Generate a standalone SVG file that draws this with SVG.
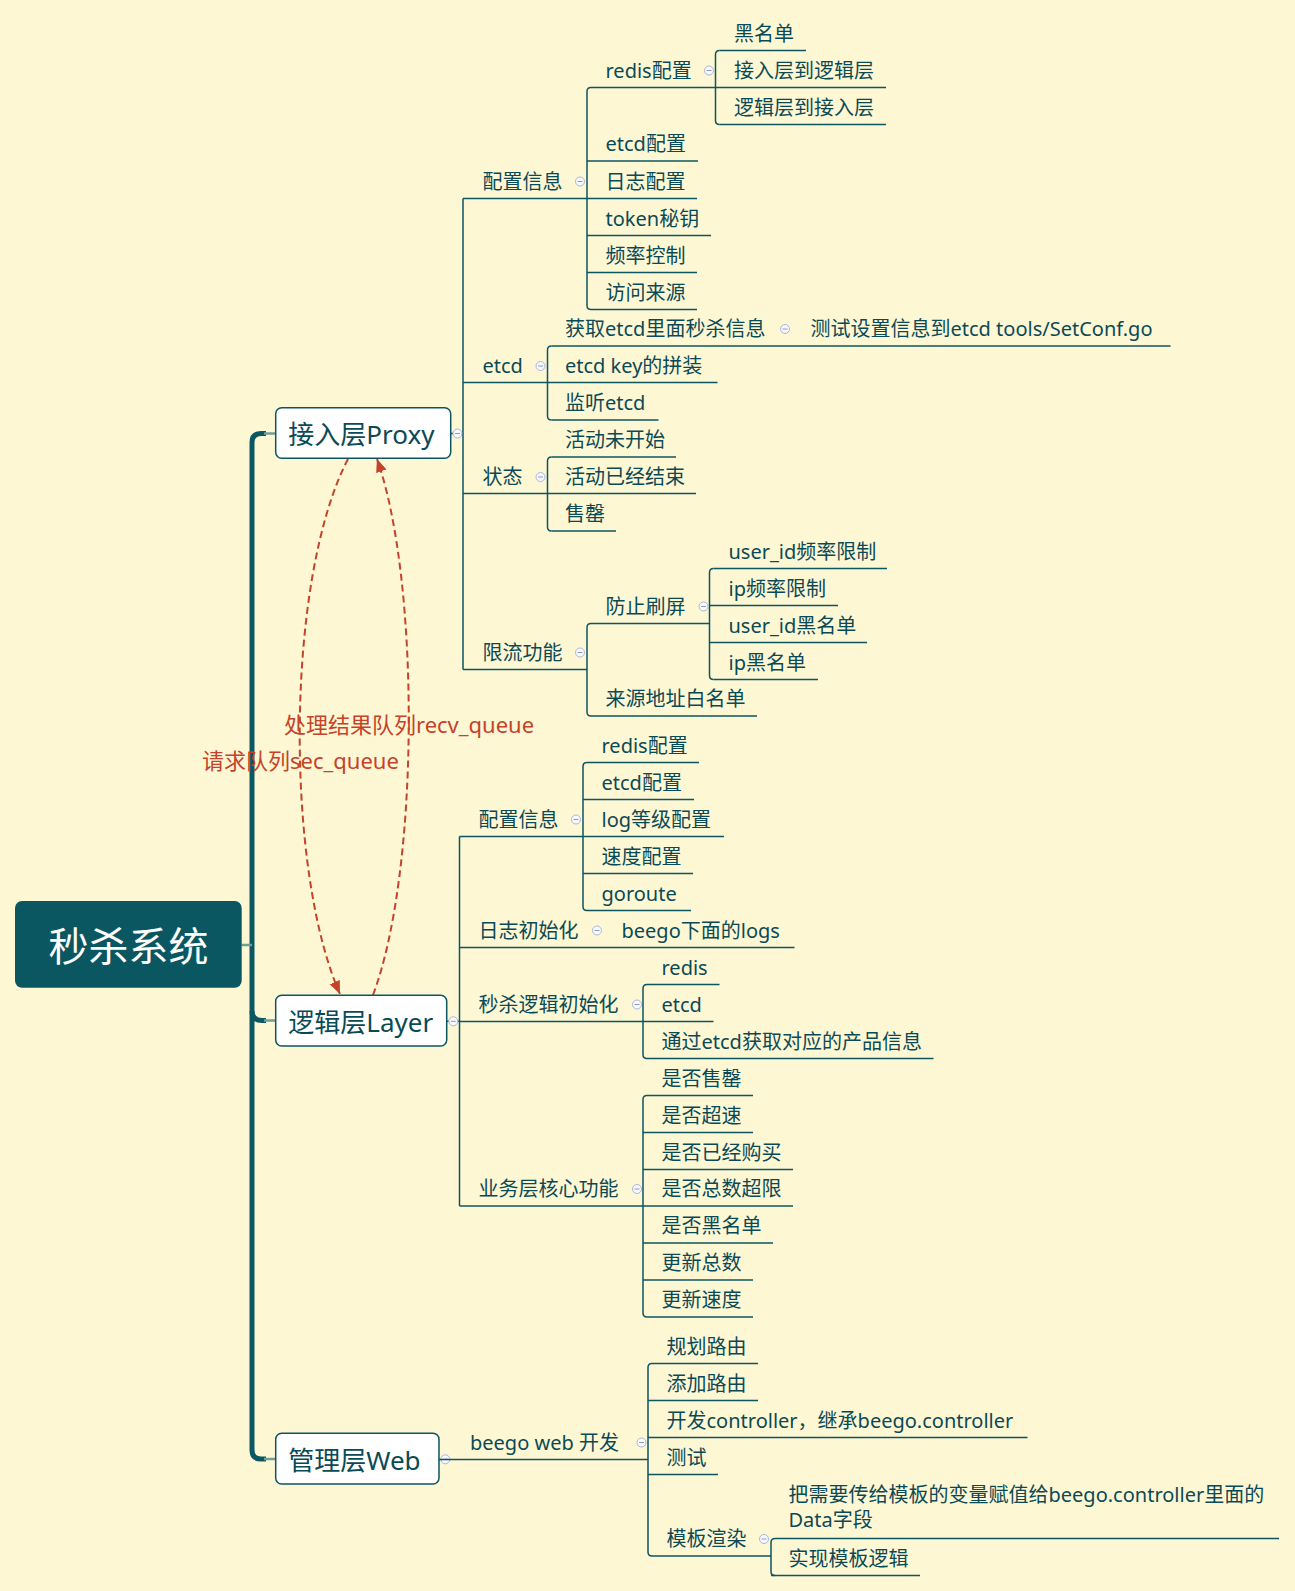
<svg xmlns="http://www.w3.org/2000/svg" xmlns:xlink="http://www.w3.org/1999/xlink" width="1295" height="1591" viewBox="0 0 1295 1591">
<style>
text{font-family:"Noto Sans","Noto Sans CJK SC",sans-serif;font-size:20px;fill:#0a4a56}
.bt{font-size:26px}
.rt{font-size:40px;fill:#ffffff}
.lbl{font-size:22px;fill:#c4432a}
path.u,.con path.l{stroke:#0b5661;stroke-width:1.5;fill:none}
.box{fill:#ffffff;stroke:#0b5661;stroke-width:1.5}
.con path.trunk{stroke:#0b5862;stroke-width:5;fill:none}
.con path.stub{stroke:#6f9f97;stroke-width:2.5;fill:none}
.con path.dash{stroke:#c4432a;stroke-width:2;fill:none;stroke-dasharray:7 4}
.cc{fill:#f8f9ff;stroke:#aab6d8;stroke-width:1}
.cm{stroke:#8e9bc6;stroke-width:1;fill:none}
</style>
<defs>
<g id="col"><circle cx="0" cy="0" r="4.5" class="cc"/><path d="M-2.5 0H2.5" class="cm"/></g>
<marker id="ah" markerUnits="userSpaceOnUse" markerWidth="15" markerHeight="12" refX="13" refY="5.5" orient="auto"><path d="M0 0L13 5.5L0 11z" fill="#c4432a"/></marker>
</defs>
<rect x="0" y="0" width="1295" height="1591" fill="#fef7d4"/>

<g id="connectors" class="con">
<path class="trunk" d="M266 433.5H261Q252 433.5 252 442.5V1450Q252 1459 261 1459H266"/>
<path class="trunk" d="M252 1011Q252 1020.5 262 1020.5H266"/>
<path class="stub" d="M264 433.5H276"/>
<path class="stub" d="M264 1020.5H276"/>
<path class="stub" d="M264 1459H276"/>
<path class="stub" d="M241.5 945H252"/>
<path class="l" d="M450.7 433.5H463V198.5M463 433.5V669.5"/>
<path class="l" d="M591 87.5Q587 87.5 587 91.5V305.5Q587 309.5 591 309.5"/>
<path class="l" d="M719.5 50.5Q715.5 50.5 715.5 54.5V120.5Q715.5 124.5 719.5 124.5"/>
<path class="l" d="M551.5 346Q547.5 346 547.5 350V416Q547.5 420 551.5 420"/>
<path class="l" d="M551.5 457Q547.5 457 547.5 461V527Q547.5 531 551.5 531"/>
<path class="l" d="M591 623.5Q587 623.5 587 627.5V712Q587 716 591 716"/>
<path class="l" d="M713.5 568.5Q709.5 568.5 709.5 572.5V675.5Q709.5 679.5 713.5 679.5"/>
<path class="l" d="M446.7 1021.3H459.5M459.5 836.5V1206"/>
<path class="l" d="M587 762.5Q583 762.5 583 766.5V906.5Q583 910.5 587 910.5"/>
<path class="l" d="M647 984.5Q643 984.5 643 988.5V1054.5Q643 1058.5 647 1058.5"/>
<path class="l" d="M647 1095.5Q643 1095.5 643 1099.5V1313Q643 1317 647 1317"/>
<path class="l" d="M652 1363.5Q648 1363.5 648 1367.5V1552Q648 1556 652 1556"/>
<path class="l" d="M775 1538.5Q771 1538.5 771 1542.5V1571.5Q771 1575.5 775 1575.5"/>
<path class="dash" marker-end="url(#ah)" d="M348 459C285 580 285 870 340 994"/>
<path class="dash" marker-end="url(#ah)" d="M373 995C420 870 420 580 377 459"/>
<text class="lbl" x="284" y="733">处理结果队列recv_queue</text>
<text class="lbl" x="202" y="769">请求队列sec_queue</text>
<use href="#col" x="457.5" y="433.5"/>
<use href="#col" x="453.3" y="1021.3"/>
<use href="#col" x="445.3" y="1459.3"/>
</g>

<g id="root"><rect x="15" y="901" width="226.7" height="86.7" rx="7" fill="#0a5762"/><text class="rt" x="128.5" y="961" text-anchor="middle">秒杀系统</text></g>
<g id="proxy"><rect class="box" x="275.7" y="407.7" width="175" height="50.6" rx="6"/><text class="bt" x="288.3" y="443.5">接入层Proxy</text></g>
<g id="layer"><rect class="box" x="275.7" y="995.3" width="171" height="50.7" rx="6"/><text class="bt" x="288.3" y="1031.5">逻辑层Layer</text></g>
<g id="web"><rect class="box" x="275.7" y="1433.3" width="163.3" height="50.7" rx="6"/><text class="bt" x="288.3" y="1469.5">管理层Web</text></g>

<g id="p-cfg"><text x="482.5" y="188.5">配置信息</text><path class="u" d="M463 198.5H587"/><use href="#col" x="580" y="181.5"/></g>
<g id="p-etcd"><text x="482.5" y="372.5">etcd</text><path class="u" d="M463 382.5H547.5"/><use href="#col" x="540.5" y="366"/></g>
<g id="p-state"><text x="482.5" y="483.5">状态</text><path class="u" d="M463 493.5H547.5"/><use href="#col" x="540.5" y="477"/></g>
<g id="p-limit"><text x="482.5" y="659.5">限流功能</text><path class="u" d="M463 669.5H587"/><use href="#col" x="580" y="652.5"/></g>

<g id="p-cfg-redis"><text x="605.5" y="77.5">redis配置</text><path class="u" d="M591 87.5H715.5"/><use href="#col" x="709" y="70.5"/></g>
<g id="p-cfg-etcd"><text x="605.5" y="151">etcd配置</text><path class="u" d="M587 161H698"/></g>
<g id="p-cfg-log"><text x="605.5" y="188.5">日志配置</text><path class="u" d="M587 198.5H697"/></g>
<g id="p-cfg-token"><text x="605.5" y="225.5">token秘钥</text><path class="u" d="M587 235.5H711"/></g>
<g id="p-cfg-freq"><text x="605.5" y="262.5">频率控制</text><path class="u" d="M587 272.5H697"/></g>
<g id="p-cfg-src"><text x="605.5" y="299.5">访问来源</text><path class="u" d="M591 309.5H697"/></g>

<g id="p-redis-black"><text x="734" y="40.5">黑名单</text><path class="u" d="M719.5 50.5H806"/></g>
<g id="p-redis-a2l"><text x="734" y="77.5">接入层到逻辑层</text><path class="u" d="M715.5 87.5H886"/></g>
<g id="p-redis-l2a"><text x="734" y="114.5">逻辑层到接入层</text><path class="u" d="M719.5 124.5H886"/></g>

<g id="p-etcd-get"><text x="565" y="336">获取etcd里面秒杀信息</text><path class="u" d="M551.5 346H797"/><use href="#col" x="785" y="329"/></g>
<g id="p-etcd-test"><text x="810.5" y="336">测试设置信息到etcd tools/SetConf.go</text><path class="u" d="M797 346H1170.5"/></g>
<g id="p-etcd-key"><text x="565" y="372.5">etcd key的拼装</text><path class="u" d="M547.5 382.5H717.5"/></g>
<g id="p-etcd-watch"><text x="565" y="410">监听etcd</text><path class="u" d="M551.5 420H658.5"/></g>

<g id="p-state-1"><text x="565" y="447">活动未开始</text><path class="u" d="M551.5 457H676"/></g>
<g id="p-state-2"><text x="565" y="483.5">活动已经结束</text><path class="u" d="M547.5 493.5H696"/></g>
<g id="p-state-3"><text x="565" y="521">售罄</text><path class="u" d="M551.5 531H616"/></g>

<g id="p-limit-brush"><text x="605.5" y="613.5">防止刷屏</text><path class="u" d="M591 623.5H709.5"/><use href="#col" x="703.5" y="606.5"/></g>
<g id="p-limit-white"><text x="605.5" y="706">来源地址白名单</text><path class="u" d="M591 716H757"/></g>
<g id="p-brush-1"><text x="728.5" y="558.5">user_id频率限制</text><path class="u" d="M713.5 568.5H887"/></g>
<g id="p-brush-2"><text x="728.5" y="595.5">ip频率限制</text><path class="u" d="M709.5 605.5H838"/></g>
<g id="p-brush-3"><text x="728.5" y="632.5">user_id黑名单</text><path class="u" d="M709.5 642.5H867"/></g>
<g id="p-brush-4"><text x="728.5" y="669.5">ip黑名单</text><path class="u" d="M713.5 679.5H818"/></g>

<g id="l-cfg"><text x="478.5" y="826.5">配置信息</text><path class="u" d="M459.5 836.5H583"/><use href="#col" x="576" y="819.5"/></g>
<g id="l-log"><text x="478.5" y="937.5">日志初始化</text><path class="u" d="M459.5 947.5H610"/><use href="#col" x="597" y="930.5"/></g>
<g id="l-log-beego"><text x="621.5" y="937.5">beego下面的logs</text><path class="u" d="M610 947.5H794.5"/></g>
<g id="l-init"><text x="478.5" y="1011.5">秒杀逻辑初始化</text><path class="u" d="M459.5 1021.5H643"/><use href="#col" x="637" y="1004.5"/></g>
<g id="l-core"><text x="478.5" y="1196">业务层核心功能</text><path class="u" d="M459.5 1206H643"/><use href="#col" x="637" y="1189"/></g>

<g id="l-cfg-redis"><text x="601.5" y="752.5">redis配置</text><path class="u" d="M587 762.5H699"/></g>
<g id="l-cfg-etcd"><text x="601.5" y="789.5">etcd配置</text><path class="u" d="M583 799.5H694"/></g>
<g id="l-cfg-log"><text x="601.5" y="826.5">log等级配置</text><path class="u" d="M583 836.5H724"/></g>
<g id="l-cfg-speed"><text x="601.5" y="863.5">速度配置</text><path class="u" d="M583 873.5H693"/></g>
<g id="l-cfg-go"><text x="601.5" y="900.5">goroute</text><path class="u" d="M587 910.5H691"/></g>

<g id="l-init-redis"><text x="661.5" y="974.5">redis</text><path class="u" d="M647 984.5H719.5"/></g>
<g id="l-init-etcd"><text x="661.5" y="1011.5">etcd</text><path class="u" d="M643 1021.5H713.5"/></g>
<g id="l-init-prod"><text x="661.5" y="1048.5">通过etcd获取对应的产品信息</text><path class="u" d="M647 1058.5H933.5"/></g>

<g id="l-core-1"><text x="661.5" y="1085.5">是否售罄</text><path class="u" d="M647 1095.5H753"/></g>
<g id="l-core-2"><text x="661.5" y="1122.5">是否超速</text><path class="u" d="M643 1132.5H753"/></g>
<g id="l-core-3"><text x="661.5" y="1159.5">是否已经购买</text><path class="u" d="M643 1169.5H793"/></g>
<g id="l-core-4"><text x="661.5" y="1196">是否总数超限</text><path class="u" d="M643 1206H793"/></g>
<g id="l-core-5"><text x="661.5" y="1233">是否黑名单</text><path class="u" d="M643 1243H773"/></g>
<g id="l-core-6"><text x="661.5" y="1270">更新总数</text><path class="u" d="M643 1280H753"/></g>
<g id="l-core-7"><text x="661.5" y="1307">更新速度</text><path class="u" d="M647 1317H753"/></g>

<g id="w-dev"><text x="470" y="1449.5">beego web 开发</text><path class="u" d="M439 1459.5H648"/><use href="#col" x="641.5" y="1442.5"/></g>
<g id="w-1"><text x="666.5" y="1353.5">规划路由</text><path class="u" d="M652 1363.5H758"/></g>
<g id="w-2"><text x="666.5" y="1390.5">添加路由</text><path class="u" d="M648 1400.5H758"/></g>
<g id="w-3"><text x="666.5" y="1427.5">开发controller，继承beego.controller</text><path class="u" d="M648 1437.5H1027.5"/></g>
<g id="w-4"><text x="666.5" y="1464.5">测试</text><path class="u" d="M648 1474.5H718"/></g>
<g id="w-5"><text x="666.5" y="1546">模板渲染</text><path class="u" d="M652 1556H771"/><use href="#col" x="764" y="1539"/></g>
<g id="w-5-1"><text x="788.5" y="1502"><tspan x="788.5">把需要传给模板的变量赋值给beego.controller里面的</tspan><tspan x="788.5" dy="25">Data字段</tspan></text><path class="u" d="M775 1538.5H1279"/></g>
<g id="w-5-2"><text x="788.5" y="1565.5">实现模板逻辑</text><path class="u" d="M771 1575.5H920"/></g>
</svg>
